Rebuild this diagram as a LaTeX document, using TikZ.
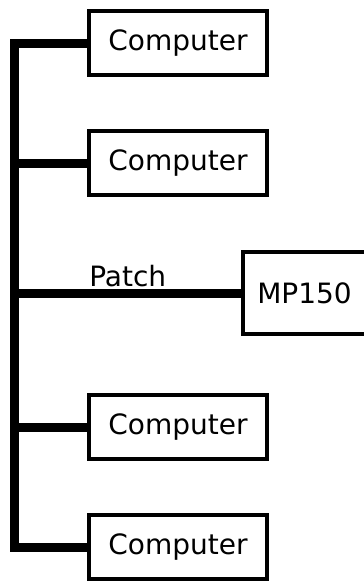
\documentclass[tikz,border=0pt]{standalone}
\usepackage{fontspec}
\setmainfont{DejaVu Sans}
\usetikzlibrary{positioning}
\tikzset{
	pc/.style={rectangle, draw=black, line width=4pt, fill=white,
		font=\fontsize{28}{34}\selectfont, minimum width=178pt,
		minimum height=64pt, text centered},
	server/.style={pc, minimum width=123pt, minimum height=82pt},
	bus/.style={draw=black, line width=9pt},
	tag/.style={font=\fontsize{28}{34}\selectfont, inner sep=2pt}
}

\begin{document}
\begin{tikzpicture}[x=1pt, y=-1pt, node distance=52pt]
			\useasboundingbox (0,0) rectangle (364,581);
			\clip (0,0) rectangle (364,581);
			
			\node[pc] (pc1) at (178,43) {Computer};
			\node[pc, below=of pc1] (pc2) {Computer};
			\node[pc, below=196pt of pc2] (pc3) {Computer};
			\node[pc, below=of pc3] (pc4) {Computer};
			
			\node[server] (mp) at (304.5,293) {MP150};
			
			\coordinate (bus) at (14.5,300);
			\draw[bus] (pc1.west) -| (bus) |- (pc4.west);
			\draw[bus] (pc2.west) -- (pc2.west -| bus);
			\draw[bus] (pc3.west) -- (pc3.west -| bus);
			\draw[bus] (mp.west) -- (mp.west -| bus) node[tag, pos=0.5, above] (patch) {Patch};
		\end{tikzpicture}
\end{document}
